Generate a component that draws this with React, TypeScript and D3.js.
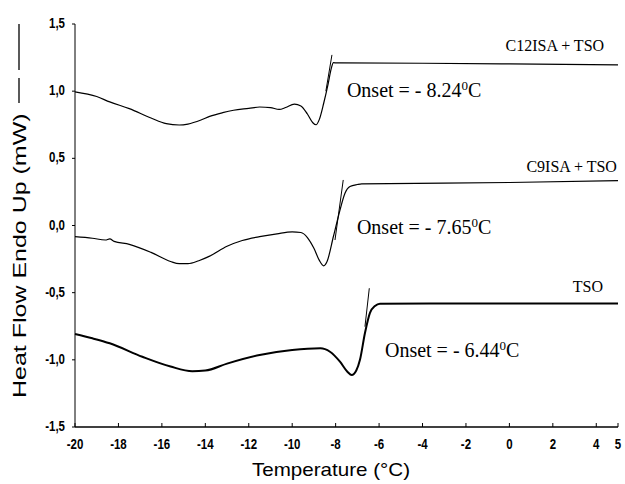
import React from "react";
import * as d3 from "d3";

// DSC heating curves, temperature (°C) vs heat flow (mW)
const c12Curve: [number, number][] = [
  [-20, 0.995], [-19, 0.96], [-18.4, 0.92], [-17.5, 0.87], [-16.5, 0.8],
  [-15.8, 0.758], [-15.2, 0.748], [-14.8, 0.755], [-14.2, 0.785], [-13.8, 0.812],
  [-13.2, 0.84], [-12.7, 0.858], [-12, 0.872], [-11.5, 0.882], [-11, 0.878],
  [-10.6, 0.864], [-10.3, 0.878], [-9.9, 0.903], [-9.6, 0.89], [-9.3, 0.83],
  [-9.05, 0.765], [-8.9, 0.75], [-8.75, 0.79], [-8.55, 0.91], [-8.35, 1.05],
  [-8.2, 1.17], [-8.1, 1.212], [-7.95, 1.21], [-7.8, 1.21], [-4, 1.208],
  [0, 1.203], [5, 1.195],
];

const c9Curve: [number, number][] = [
  [-20, -0.083], [-19.2, -0.095], [-18.6, -0.108], [-18.4, -0.1], [-18.2, -0.118],
  [-17.5, -0.14], [-16.5, -0.2], [-15.6, -0.268], [-15.2, -0.284], [-14.8, -0.284],
  [-14.3, -0.262], [-13.8, -0.228], [-13, -0.155], [-12.3, -0.112], [-11.5, -0.083],
  [-10.7, -0.062], [-10, -0.048], [-9.6, -0.052], [-9.3, -0.09], [-9, -0.17],
  [-8.75, -0.26], [-8.55, -0.3], [-8.4, -0.27], [-8.1, -0.08], [-7.8, 0.115],
  [-7.57, 0.24], [-7.34, 0.29], [-7, 0.305], [-6.8, 0.31], [0, 0.32], [5, 0.334],
];

const tsoCurve: [number, number][] = [
  [-20, -0.808], [-19.2, -0.84], [-18.4, -0.877], [-16.9, -0.977], [-15.6, -1.05],
  [-14.6, -1.085], [-14, -1.08], [-13, -1.028], [-11.5, -0.964], [-10, -0.927],
  [-8.7, -0.914], [-8.26, -0.94], [-7.8, -1.014], [-7.45, -1.09], [-7.26, -1.113],
  [-7.05, -1.08], [-6.88, -1], [-6.65, -0.8], [-6.42, -0.65], [-6.19, -0.6],
  [-5.96, -0.582], [0, -0.58], [5, -0.58],
];

// short tangent lines used for the onset construction
const onsetTangents: [number, number][][] = [
  [[-8.45, 1.0], [-8.17, 1.27]],
  [[-8.03, -0.108], [-7.65, 0.339]],
  [[-6.65, -0.753], [-6.45, -0.467]],
];

const seriesNames = ["C12ISA + TSO", "C9ISA + TSO", "TSO"];
const seriesLabelPos: [number, number][] = [[4.36, 1.3], [4.95, 0.398], [4.31, -0.495]];
const onsetValues = ["8.24", "7.65", "6.44"];
const onsetLabelPos: [number, number][] = [[-7.48, 0.957], [-7.02, -0.063], [-5.73, -0.979]];

const xTicks = [-20, -18, -16, -14, -12, -10, -8, -6, -4, -2, 0, 2, 4, 5];
const yTicks = [1.5, 1.0, 0.5, 0.0, -0.5, -1.0, -1.5];
const yTickLabels = ["1,5", "1,0", "0,5", "0,0", "-0,5", "-1,0", "-1,5"];

export default function App() {
  const x = d3.scaleLinear().domain([-20, 5]).range([75, 618]);
  const y = d3.scaleLinear().domain([-1.5, 1.5]).range([427, 24]);

  const line = d3
    .line<[number, number]>()
    .x((d) => x(d[0]))
    .y((d) => y(d[1]))
    .curve(d3.curveMonotoneX);
  const straight = d3
    .line<[number, number]>()
    .x((d) => x(d[0]))
    .y((d) => y(d[1]));

  const curves = [c12Curve, c9Curve, tsoCurve];
  const widths = [1.2, 1.2, 2];
  const sans = "'Liberation Sans', Arial, sans-serif";
  const serif = "'Liberation Serif', 'Times New Roman', serif";

  return (
    <svg
      width={625}
      height={484}
      style={{ position: "absolute", left: 0, top: 0, background: "#fff" }}
    >
      {/* axes */}
      <line x1={x(-20)} x2={x(-20)} y1={y(1.5)} y2={y(-1.5)} stroke="#000" strokeWidth={1} />
      <line x1={x(-20)} x2={x(5)} y1={y(-1.5)} y2={y(-1.5)} stroke="#000" strokeWidth={1.3} />
      {yTicks.map((t, i) => (
        <g key={"y" + i}>
          <line x1={x(-20) - 3} x2={x(-20)} y1={y(t)} y2={y(t)} stroke="#000" />
          <text
            transform={`translate(${x(-20) - 10},${y(t) + 4}) scale(0.82,1)`}
            textAnchor="end"
            fontFamily={sans}
            fontWeight="bold"
            fontSize={14}
          >
            {yTickLabels[i]}
          </text>
        </g>
      ))}
      {xTicks.map((t) => (
        <g key={"x" + t}>
          <line x1={x(t)} x2={x(t)} y1={y(-1.5)} y2={y(-1.5) - 4} stroke="#000" />
          <text
            transform={`translate(${x(t)},${y(-1.5) + 22}) scale(0.82,1)`}
            textAnchor="middle"
            fontFamily={sans}
            fontWeight="bold"
            fontSize={14}
          >
            {t}
          </text>
        </g>
      ))}

      {/* axis titles */}
      <text
        x={331}
        y={476}
        textAnchor="middle"
        fontFamily={sans}
        fontSize={19}
        textLength={158}
        lengthAdjust="spacingAndGlyphs"
      >
        Temperature (°C)
      </text>
      <text
        transform="translate(26,398) scale(0.72,1) rotate(-90)"
        fontFamily={sans}
        fontSize={25}
      >
        Heat Flow Endo Up (mW)
      </text>
      <line x1={19} x2={19} y1={24} y2={70} stroke="#000" strokeWidth={1.3} />
      <line x1={19} x2={19} y1={78} y2={103} stroke="#000" strokeWidth={1.3} />

      {/* curves */}
      {curves.map((c, i) => (
        <path
          key={"c" + i}
          d={line(c) || ""}
          fill="none"
          stroke="#000"
          strokeWidth={widths[i]}
        />
      ))}
      {onsetTangents.map((t, i) => (
        <path key={"t" + i} d={straight(t) || ""} fill="none" stroke="#000" strokeWidth={1} />
      ))}

      {/* annotations */}
      {seriesNames.map((n, i) => (
        <text
          key={"n" + i}
          x={x(seriesLabelPos[i][0])}
          y={y(seriesLabelPos[i][1])}
          textAnchor="end"
          fontFamily={serif}
          fontSize={16}
        >
          {n}
        </text>
      ))}
      {onsetValues.map((v, i) => (
        <text
          key={"o" + i}
          x={x(onsetLabelPos[i][0])}
          y={y(onsetLabelPos[i][1])}
          fontFamily={serif}
          fontSize={20}
        >
          <tspan>{"Onset = - " + v}</tspan>
          <tspan dy={-7} fontSize={13}>0</tspan>
          <tspan dy={7}>C</tspan>
        </text>
      ))}
    </svg>
  );
}
